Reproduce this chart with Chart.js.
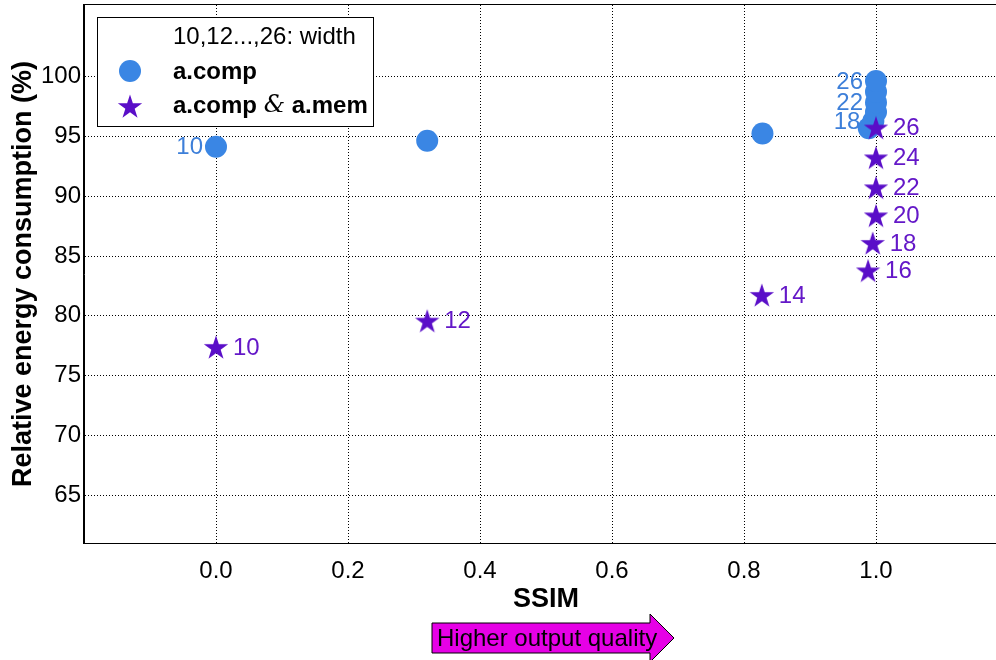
<!DOCTYPE html>
<html>
<head>
<meta charset="utf-8">
<script src="https://cdn.jsdelivr.net/npm/chart.js@4.4.0/dist/chart.umd.min.js"></script>
<style>
  html, body { margin: 0; padding: 0; background: #fff; overflow: hidden; }
  #wrap { width: 1010px; height: 660px; }
</style>
</head>
<body>
<div id="wrap"><canvas id="chart" width="1010" height="660"></canvas></div>
<script>
// Bit-width sweep: 10, 12, ..., 26
const widths = [10, 12, 14, 16, 18, 20, 22, 24, 26];

// Approximate computation only
const compSSIM   = [0.0, 0.32, 0.828, 0.989, 0.996, 1.0, 1.0, 1.0, 1.0];
const compEnergy = [94.15, 94.65, 95.25, 95.7, 96.3, 97.05, 97.85, 98.75, 99.65];

// Approximate computation + approximate memory
const memSSIM   = [0.0, 0.32, 0.827, 0.988, 0.995, 1.0, 1.0, 1.0, 1.0];
const memEnergy = [77.4, 79.6, 81.75, 83.8, 86.1, 88.4, 90.75, 93.25, 95.75];

// Widths whose label is printed next to the circle markers
const compLabelled = [10, 18, 22, 26];

const xTicks = [0.0, 0.2, 0.4, 0.6, 0.8, 1.0];
const yTicks = [65, 70, 75, 80, 85, 90, 95, 100];

const FONT = '"Liberation Sans", Arial, Helvetica, sans-serif';
const BLUE = '#3a86e4';
const PURPLE = '#5a0ec8';
const BLUE_TEXT = '#3d7fd9';
const PURPLE_TEXT = '#6418c8';

// Five-pointed filled star used as a point style
function makeStar(R, color) {
  const size = Math.ceil(R * 2 + 2);
  const c = document.createElement('canvas');
  c.width = size; c.height = size;
  const g = c.getContext('2d');
  const cx = size / 2, cy = size / 2 + R * 0.1;
  const r = R * 0.382;
  g.beginPath();
  for (let i = 0; i < 10; i++) {
    const rad = i % 2 === 0 ? R : r;
    const a = -Math.PI / 2 + i * Math.PI / 5;
    const px = cx + rad * Math.cos(a), py = cy + rad * Math.sin(a);
    if (i === 0) g.moveTo(px, py); else g.lineTo(px, py);
  }
  g.closePath();
  g.fillStyle = color;
  g.fill();
  return c;
}
const starImg = makeStar(12.8, PURPLE);

const toPoints = (xs, ys) => xs.map((x, i) => ({ x, y: ys[i] }));

// Width labels beside each marker
const pointLabels = {
  id: 'pointLabels',
  afterDatasetsDraw(chart) {
    const ctx = chart.ctx;
    ctx.save();
    ctx.font = '24px ' + FONT;
    ctx.textBaseline = 'middle';
    const stars = chart.getDatasetMeta(0).data;
    ctx.fillStyle = PURPLE_TEXT;
    ctx.textAlign = 'left';
    stars.forEach((p, i) => ctx.fillText(String(widths[i]), p.x + 17, p.y + 1));
    const circles = chart.getDatasetMeta(1).data;
    ctx.fillStyle = BLUE_TEXT;
    ctx.textAlign = 'right';
    circles.forEach((p, i) => {
      if (compLabelled.includes(widths[i])) ctx.fillText(String(widths[i]), p.x - 13, p.y + 1);
    });
    ctx.restore();
  }
};

// Plot frame, legend box and the quality arrow
const decorations = {
  id: 'decorations',
  afterDraw(chart) {
    const ctx = chart.ctx;
    const a = chart.chartArea;
    ctx.save();
    ctx.strokeStyle = '#000';
    ctx.lineWidth = 1;
    ctx.setLineDash([]);
    ctx.strokeRect(Math.round(a.left) - 0.5, Math.round(a.top) - 0.5,
                   Math.round(a.right - a.left) + 1, Math.round(a.bottom - a.top) + 1);

    // legend
    const lx = a.left + 13, ly = a.top + 12, lw = 276, lh = 109;
    ctx.fillStyle = '#fff';
    ctx.fillRect(lx, ly, lw, lh);
    ctx.strokeRect(lx + 0.5, ly + 0.5, lw, lh);
    ctx.textBaseline = 'middle';
    ctx.textAlign = 'left';
    ctx.fillStyle = '#000';
    ctx.font = '24px ' + FONT;
    const tx = lx + 76;
    ctx.fillText('10,12...,26: width', tx, ly + 20);
    ctx.fillStyle = BLUE;
    ctx.beginPath();
    ctx.arc(lx + 33, ly + 54, 11, 0, Math.PI * 2);
    ctx.fill();
    ctx.fillStyle = '#000';
    ctx.font = 'bold 24px ' + FONT;
    ctx.fillText('a.comp', tx, ly + 55);
    ctx.drawImage(starImg, lx + 33 - starImg.width / 2, ly + 89 - starImg.height / 2);
    let x = tx;
    ctx.fillText('a.comp ', x, ly + 89);
    x += ctx.measureText('a.comp ').width;
    ctx.font = 'italic 24px "DejaVu Serif", "Liberation Serif", serif';
    ctx.fillText('&', x, ly + 89);
    x += ctx.measureText('&').width;
    ctx.font = 'bold 24px ' + FONT;
    ctx.fillText(' a.mem', x, ly + 89);

    // arrow
    const ax = 432, ay = 638;
    ctx.beginPath();
    ctx.moveTo(ax, ay - 15);
    ctx.lineTo(ax + 218, ay - 15);
    ctx.lineTo(ax + 218, ay - 24);
    ctx.lineTo(ax + 242, ay);
    ctx.lineTo(ax + 218, ay + 24);
    ctx.lineTo(ax + 218, ay + 15);
    ctx.lineTo(ax, ay + 15);
    ctx.closePath();
    ctx.fillStyle = '#e600e6';
    ctx.fill();
    ctx.strokeStyle = '#000';
    ctx.stroke();
    ctx.fillStyle = '#000';
    ctx.font = '24px ' + FONT;
    ctx.fillText('Higher output quality', ax + 5, ay + 1);
    ctx.restore();
  }
};

new Chart(document.getElementById('chart'), {
  type: 'scatter',
  data: {
    datasets: [
      {
        label: 'a.comp & a.mem',
        data: toPoints(memSSIM, memEnergy),
        pointStyle: starImg,
        backgroundColor: PURPLE,
        borderColor: PURPLE,
        order: 0
      },
      {
        label: 'a.comp',
        data: toPoints(compSSIM, compEnergy),
        pointStyle: 'circle',
        pointRadius: 11,
        borderWidth: 0,
        backgroundColor: BLUE,
        borderColor: BLUE,
        order: 1
      }
    ]
  },
  options: {
    responsive: false,
    animation: false,
    events: [],
    layout: { autoPadding: false, padding: { top: 5, right: 2, left: 0, bottom: 0 } },
    plugins: { legend: { display: false }, tooltip: { enabled: false } },
    scales: {
      x: {
        type: 'linear',
        min: -0.2,
        max: 1.2,
        afterBuildTicks: s => { s.ticks = xTicks.map(v => ({ value: v })); },
        afterFit: s => { s.height = 117; s.paddingLeft = 0; s.paddingRight = 0; },
        ticks: {
          callback: v => Number(v).toFixed(1),
          font: { family: FONT, size: 24 },
          color: '#000',
          padding: 14,
          maxRotation: 0,
          autoSkip: false
        },
        grid: { color: '#000', lineWidth: 1, drawTicks: false },
        border: { display: true, color: '#000', dash: [1, 2] },
        title: {
          display: true,
          text: 'SSIM',
          color: '#000',
          font: { family: FONT, size: 27, weight: 'bold' },
          padding: { top: 0, bottom: 44 }
        }
      },
      y: {
        type: 'linear',
        min: 61,
        max: 106,
        afterBuildTicks: s => { s.ticks = yTicks.map(v => ({ value: v })); },
        afterFit: s => { s.width = 84; s.paddingTop = 0; s.paddingBottom = 0; },
        ticks: {
          font: { family: FONT, size: 24 },
          color: '#000',
          padding: 3,
          autoSkip: false
        },
        grid: { color: '#000', lineWidth: 1, drawTicks: false },
        border: { display: true, color: '#000', dash: [1, 2] },
        title: {
          display: true,
          text: 'Relative energy consumption (%)',
          color: '#000',
          font: { family: FONT, size: 27, weight: 'bold' },
          padding: { top: 7, bottom: 0 }
        }
      }
    }
  },
  plugins: [pointLabels, decorations]
});
</script>
</body>
</html>
